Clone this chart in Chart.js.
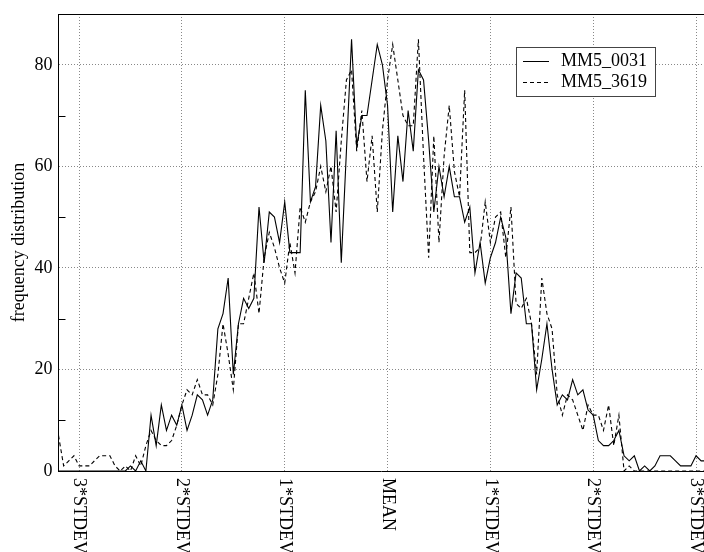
<!DOCTYPE html>
<html>
<head>
<meta charset="utf-8">
<script src="https://cdn.jsdelivr.net/npm/chart.js@4/dist/chart.umd.min.js"></script>
<style>
  html, body { margin: 0; padding: 0; background: #fff; }
  canvas { display: block; }
</style>
</head>
<body>
<canvas id="freq" width="704" height="552"></canvas>
<script>
// histogram counts per bin (bin width 0.05 stdev, first bin at -3.2 stdev)
const seriesNames = ["MM5_0031", "MM5_3619"];
const mm5_0031 = [
    0, 0, 0, 0, 0, 0, 0, 0, 0, 0, 0, 0, 0, 0, 1, 0, 2, 0, 11, 5,
    13, 8, 11, 9, 13, 8, 11, 15, 14, 11, 14, 28, 31, 38, 19, 29, 34, 32, 34, 52,
    41, 51, 50, 45, 53, 43, 43, 43, 75, 53, 56, 72, 65, 45, 67, 41, 63, 85, 64, 70,
    70, 77, 84, 80, 72, 51, 66, 57, 71, 63, 79, 77, 65, 51, 60, 54, 60, 54, 54, 49,
    52, 39, 45, 37, 42, 45, 50, 46, 31, 39, 38, 29, 29, 16, 22, 29, 20, 13, 15, 14,
    18, 15, 16, 12, 11, 6, 5, 5, 6, 8, 3, 2, 3, 0, 1, 0, 1, 3, 3, 3,
    2, 1, 1, 1, 3, 2, 2
];
const mm5_3619 = [
    7, 1, 2, 3, 1, 1, 1, 2, 3, 3, 3, 1, 0, 1, 0, 3, 1, 5, 8, 6,
    5, 5, 6, 9, 13, 16, 15, 18, 15, 15, 13, 19, 29, 23, 16, 29, 29, 34, 39, 31,
    42, 47, 44, 40, 37, 45, 39, 52, 49, 53, 55, 60, 55, 60, 51, 65, 77, 79, 63, 71,
    57, 66, 51, 67, 77, 84, 77, 70, 68, 68, 85, 62, 42, 66, 45, 62, 72, 59, 54, 75,
    43, 43, 44, 53, 45, 50, 51, 42, 52, 33, 32, 34, 29, 19, 38, 31, 28, 15, 11, 15,
    14, 11, 8, 13, 11, 11, 8, 13, 5, 11, 0, 1, 0, 0, 0, 0, 0, 0, 0, 0,
    0, 0, 0, 0, 0, 0, 0
];
const bins = mm5_0031.map((_, i) => i);
const stdevBins = [4, 24, 44, 64, 84, 104, 124];
const stdevLabels = ["3*STDEV", "2*STDEV", "1*STDEV", "MEAN", "1*STDEV", "2*STDEV", "3*STDEV"];
const yTicks = [0, 20, 40, 60, 80];
const yMinorTicks = [10, 30, 50, 70];

const serif = "'Liberation Serif', 'DejaVu Serif', serif";
const dashes = [[], [4, 3]];

const frame = {
    id: "frame",
    afterDraw(chart) {
        const { ctx, chartArea: area, scales: { x, y } } = chart;
        ctx.save();
        ctx.strokeStyle = "#000";
        ctx.lineWidth = 1;

        // top edge of the plot box
        ctx.beginPath();
        ctx.moveTo(area.left, area.top + 0.5);
        ctx.lineTo(area.right, area.top + 0.5);
        ctx.stroke();

        // minor ticks on the left axis
        ctx.beginPath();
        yMinorTicks.forEach(v => {
            const py = Math.round(y.getPixelForValue(v)) + 0.5;
            ctx.moveTo(area.left, py);
            ctx.lineTo(area.left + 7, py);
        });
        ctx.stroke();

        // vertical stdev labels under the axis
        ctx.fillStyle = "#000";
        ctx.font = "18px " + serif;
        ctx.textAlign = "left";
        ctx.textBaseline = "middle";
        stdevBins.forEach((b, i) => {
            ctx.save();
            ctx.translate(x.getPixelForValue(b), area.bottom + 7);
            ctx.rotate(Math.PI / 2);
            ctx.fillText(stdevLabels[i], 0, 0);
            ctx.restore();
        });

        // legend box
        const box = { left: 516, top: 47, width: 139, height: 49 };
        ctx.fillStyle = "#fff";
        ctx.fillRect(box.left, box.top, box.width, box.height);
        ctx.strokeStyle = "#444";
        ctx.strokeRect(box.left + 0.5, box.top + 0.5, box.width, box.height);
        chart.data.datasets.forEach((ds, i) => {
            const ly = box.top + 14.5 + i * 21;
            ctx.strokeStyle = "#000";
            ctx.setLineDash(dashes[i]);
            ctx.beginPath();
            ctx.moveTo(523, ly);
            ctx.lineTo(549, ly);
            ctx.stroke();
            ctx.setLineDash([]);
            ctx.fillStyle = "#000";
            ctx.fillText(ds.label, 561, ly);
        });
        ctx.restore();
    }
};

new Chart(document.getElementById("freq"), {
    type: "line",
    data: {
        labels: bins,
        datasets: [
            { label: seriesNames[0], data: mm5_0031, borderColor: "#000", borderWidth: 1.1, borderDash: dashes[0], pointRadius: 0, tension: 0 },
            { label: seriesNames[1], data: mm5_3619, borderColor: "#000", borderWidth: 1.1, borderDash: dashes[1], pointRadius: 0, tension: 0 }
        ]
    },
    options: {
        responsive: false,
        animation: false,
        devicePixelRatio: 1,
        layout: { padding: { top: 14, right: 0, left: 0, bottom: 0 } },
        plugins: { legend: { display: false }, tooltip: { enabled: false } },
        scales: {
            x: {
                type: "linear",
                min: 0,
                max: 125.55,
                afterBuildTicks: scale => { scale.ticks = stdevBins.map(v => ({ value: v })); },
                afterFit: scale => { scale.height = 81; scale.paddingLeft = 0; scale.paddingRight = 0; },
                ticks: { display: false },
                grid: { color: "#888", drawTicks: false },
                border: { color: "#000", width: 1, dash: [1, 2] }
            },
            y: {
                min: 0,
                max: 90,
                afterBuildTicks: scale => { scale.ticks = yTicks.map(v => ({ value: v })); },
                afterFit: scale => { scale.width = 58.5; scale.paddingTop = 0; scale.paddingBottom = 0; },
                ticks: { color: "#000", padding: 6, font: { family: serif, size: 18 } },
                grid: { color: "#888", drawTicks: false },
                border: { color: "#000", width: 1, dash: [1, 2] },
                title: { display: true, text: "frequency distribution", color: "#000", padding: { top: 8, bottom: 0 }, font: { family: serif, size: 18 } }
            }
        }
    },
    plugins: [frame]
});
</script>
</body>
</html>
